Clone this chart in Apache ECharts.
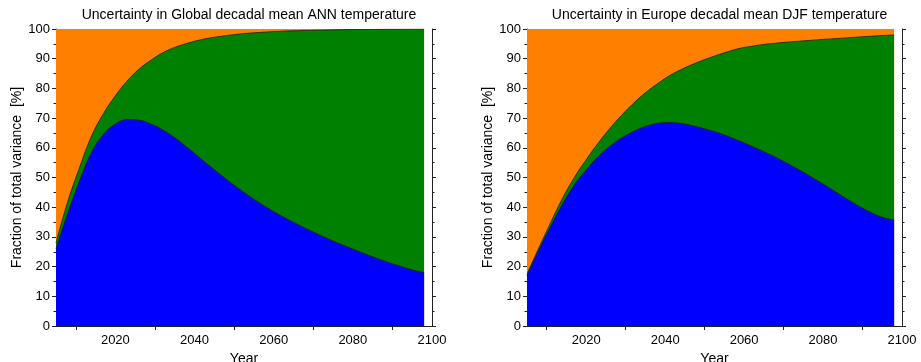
<!DOCTYPE html>
<html>
<head>
<meta charset="utf-8">
<script src="https://cdn.jsdelivr.net/npm/echarts@6/dist/echarts.min.js"></script>
<style>
  html, body { margin: 0; padding: 0; background: #fff; }
  #chart { width: 921px; height: 362px; }
</style>
</head>
<body>
<div id="chart"></div>
<script>
// Decade centres (years) shared by both panels
const years = [2005, 2008, 2011, 2014, 2017, 2020, 2023, 2026, 2029, 2032, 2035, 2038, 2041, 2044, 2047, 2050,
               2053, 2056, 2059, 2062, 2065, 2068, 2071, 2074, 2077, 2080, 2083, 2086, 2089, 2092, 2095, 2098];

// Global ANN: model uncertainty share (%) and model + scenario share (%)
const globalModel = [26, 38, 49, 58.5, 64.5, 68, 69.5, 69.3, 68, 66, 63.4, 60.3, 57, 53.7, 50.5, 47.4,
                     44.5, 41.8, 39.3, 37, 34.9, 32.9, 31, 29.2, 27.5, 25.9, 24.3, 22.8, 21.4, 20.1, 18.9, 18];
const globalModelScen = [28, 42, 53.5, 64, 71.5, 77.5, 82.5, 86.5, 89.5, 92, 93.8, 95.1, 96.2, 97, 97.6, 98.1,
                         98.5, 98.8, 99.05, 99.25, 99.4, 99.5, 99.6, 99.68, 99.75, 99.8, 99.84, 99.87, 99.9, 99.92, 99.94, 99.95];

// Europe DJF: model uncertainty share (%) and model + scenario share (%)
const europeModel = [17, 25.5, 33.5, 41, 47.5, 52.5, 57, 60.5, 63.3, 65.5, 67.2, 68.2, 68.5, 68.2, 67.4, 66.4,
                     65.2, 63.8, 62.2, 60.5, 58.7, 56.8, 54.7, 52.5, 50.2, 47.8, 45.3, 42.8, 40.4, 38.3, 36.6, 35.7];
const europeModelScen = [17.5, 26.3, 34.8, 43, 50, 56, 61.5, 66.5, 71, 75, 78.5, 81.5, 84.2, 86.3, 88.1, 89.7,
                         91.1, 92.4, 93.5, 94.2, 94.8, 95.2, 95.6, 95.9, 96.2, 96.5, 96.75, 97, 97.3, 97.55, 97.8, 98];

const titles = ['Uncertainty in Global decadal mean ANN temperature',
                'Uncertainty in Europe decadal mean DJF temperature'];
const xLabelValues = [2020, 2040, 2060, 2080, 2100];
const xBottomTicks = [2010, 2030, 2050, 2070, 2090];
const xTopTicks = [2010, 2020, 2030, 2040, 2050, 2060, 2070, 2080, 2090];

const FONT = 'Liberation Sans, Arial, Helvetica, sans-serif';
const COL_INTERNAL = '#ff8000';
const COL_SCEN = '#008000';
const COL_MODEL = '#0000ff';

const grids = [
  { left: 56, top: 29, width: 376, height: 297, outerBoundsMode: 'none' },
  { left: 527, top: 29, width: 375, height: 297, outerBoundsMode: 'none' }
];

const axisLine = { show: true, lineStyle: { color: '#222', width: 1 } };

const option = {
  animation: false,
  backgroundColor: '#fff',
  textStyle: { fontFamily: FONT },
  title: grids.map((g, i) => ({
    text: titles[i],
    left: g.left + g.width / 2,
    top: 3,
    textAlign: 'center',
    textStyle: { fontFamily: FONT, fontSize: 14, fontWeight: 'normal', color: '#000' }
  })),
  grid: grids,
  xAxis: [],
  yAxis: [],
  series: []
};

function pairs(vals) { return years.map((y, i) => [y, vals[i]]); }

[[globalModel, globalModelScen], [europeModel, europeModelScen]].forEach(([model, modelScen], i) => {
  // bottom axis
  option.xAxis.push({
    type: 'value', gridIndex: i, position: 'bottom', min: 2005, max: 2100,
    name: 'Year', nameLocation: 'middle', nameGap: 19,
    nameTextStyle: { fontFamily: FONT, fontSize: 14, color: '#000' },
    axisLine: axisLine,
    axisTick: { show: true, length: 4, lineStyle: { color: '#222' }, customValues: xBottomTicks },
    axisLabel: { show: true, color: '#000', fontSize: 13, fontFamily: FONT, margin: 8,
                 customValues: xLabelValues, formatter: v => String(v) },
    splitLine: { show: false }
  });
  // top axis
  option.xAxis.push({
    type: 'value', gridIndex: i, position: 'top', min: 2005, max: 2100,
    axisLine: axisLine,
    axisTick: { show: true, length: 4, lineStyle: { color: '#222' }, customValues: xTopTicks },
    axisLabel: { show: false },
    splitLine: { show: false }
  });
  // left axis
  option.yAxis.push({
    type: 'value', gridIndex: i, position: 'left', min: 0, max: 100, interval: 10,
    name: 'Fraction of total variance  [%]', nameLocation: 'middle', nameGap: 32,
    nameTextStyle: { fontFamily: FONT, fontSize: 14, color: '#000' },
    axisLine: axisLine,
    axisTick: { show: true, length: 4, lineStyle: { color: '#222' } },
    minorTick: { show: true, splitNumber: 2, length: 2.5, lineStyle: { color: '#222' } },
    axisLabel: { color: '#000', fontSize: 13, fontFamily: FONT, margin: 6 },
    splitLine: { show: false }
  });
  // right axis
  option.yAxis.push({
    type: 'value', gridIndex: i, position: 'right', min: 0, max: 100, interval: 10,
    axisLine: axisLine,
    axisTick: { show: true, length: 4, lineStyle: { color: '#222' } },
    minorTick: { show: true, splitNumber: 2, length: 2.5, lineStyle: { color: '#222' } },
    axisLabel: { show: false },
    splitLine: { show: false }
  });

  const xi = i * 2, yi = i * 2;
  const common = { type: 'line', xAxisIndex: xi, yAxisIndex: yi, smooth: 0.4, showSymbol: false,
                   symbol: 'none', silent: true, z: 2 };
  // internal variability fills up to 100 %
  option.series.push(Object.assign({}, common, {
    name: 'Internal', data: pairs(model.map(() => 100)),
    lineStyle: { width: 0 }, areaStyle: { color: COL_INTERNAL, opacity: 1 }
  }));
  option.series.push(Object.assign({}, common, {
    name: 'Scenario', data: pairs(modelScen),
    lineStyle: { width: 0.8, color: '#1a1a1a' }, areaStyle: { color: COL_SCEN, opacity: 1 }
  }));
  option.series.push(Object.assign({}, common, {
    name: 'Model', data: pairs(model),
    lineStyle: { width: 0.8, color: '#1a1a1a' }, areaStyle: { color: COL_MODEL, opacity: 1 }
  }));
});

const chart = echarts.init(document.getElementById('chart'), null, { renderer: 'canvas' });
chart.setOption(option);
</script>
</body>
</html>
